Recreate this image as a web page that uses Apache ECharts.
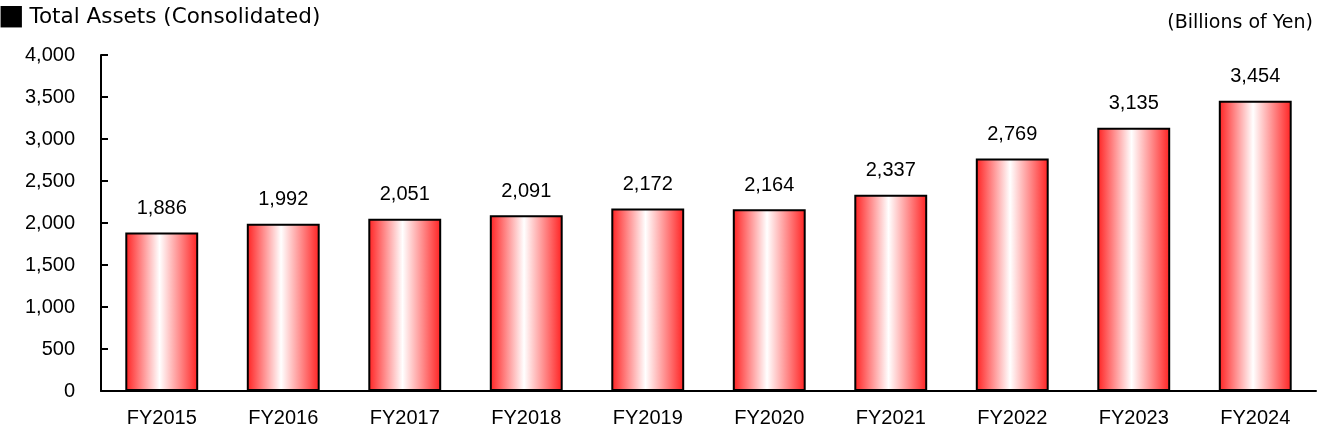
<!DOCTYPE html>
<html><head><meta charset="utf-8">
<script src="https://cdn.jsdelivr.net/npm/echarts@6/dist/echarts.min.js"></script>
<style>html,body{margin:0;padding:0;background:#fff}#c{width:1320px;height:426px}</style>
</head><body><div id="c"></div>
<script>
var categories = ['FY2015','FY2016','FY2017','FY2018','FY2019','FY2020','FY2021','FY2022','FY2023','FY2024'];
var values = [1886,1992,2051,2091,2172,2164,2337,2769,3135,3454];
var yTicks = [0,500,1000,1500,2000,2500,3000,3500,4000];
var NUMFONT = '"Liberation Sans", Arial, sans-serif';
var TFONT = '"DejaVu Sans", sans-serif';
var chart = echarts.init(document.getElementById('c'));
chart.setOption({
  animation:false,
  textStyle:{fontFamily:NUMFONT},
  title:[
    {text:'{sq|■}{t|Total Assets (Consolidated)}', left:-7, top:-2,
     textStyle:{fontWeight:'normal', rich:{
       sq:{fontSize:28, color:'#000', fontFamily:TFONT, fontWeight:'normal', verticalAlign:'middle', lineHeight:28, padding:[0,5,0,0]},
       t:{fontSize:21.5, color:'#000', fontFamily:TFONT, fontWeight:'normal', verticalAlign:'middle', lineHeight:28}
     }}},
    {text:'(Billions of Yen)', right:2, top:9, textStyle:{fontSize:19, fontWeight:'normal', color:'#000', fontFamily:TFONT}}
  ],
  grid:{left:101, right:4, top:55, bottom:35, containLabel:false, outerBoundsMode:'none'},
  xAxis:{type:'category', data:categories,
    axisLine:{lineStyle:{color:'#000', width:2}},
    axisTick:{inside:true, length:6, lineStyle:{color:'#000', width:2}, alignWithLabel:false},
    axisLabel:{color:'#000', fontSize:20, margin:17, fontFamily:NUMFONT}
  },
  yAxis:{type:'value', min:0, max:4000, interval:500,
    axisLine:{show:true, lineStyle:{color:'#000', width:2}},
    axisTick:{show:true, inside:true, length:7, lineStyle:{color:'#000', width:2}},
    splitLine:{show:false},
    axisLabel:{color:'#000', fontSize:20, margin:26, fontFamily:NUMFONT,
      formatter:function(v){return yTicks.indexOf(v) >= 0 ? v.toLocaleString('en-US') : '';}}
  },
  series:[{type:'bar', data:values, barWidth:'60%',
    itemStyle:{borderColor:'#000', borderWidth:2,
      color:new echarts.graphic.LinearGradient(0,0,1,0,[
        {offset:0,color:'#ff2020'},{offset:0.47,color:'#ffffff'},{offset:1,color:'#ff2020'}])},
    label:{show:true, position:'top', distance:14, color:'#000', fontSize:20, fontFamily:NUMFONT,
      formatter:function(p){return p.value.toLocaleString('en-US');}}
  }]
});
</script></body></html>
